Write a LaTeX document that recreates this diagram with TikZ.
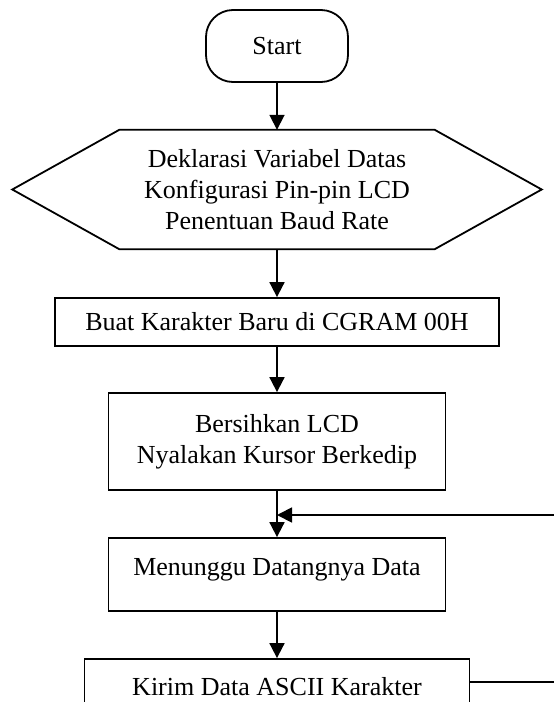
\documentclass[tikz,border=0pt]{standalone}
\usepackage{fontspec}
\setmainfont{Liberation Serif}
\usetikzlibrary{arrows.meta}
\begin{document}
\begin{tikzpicture}[x=1pt,y=-1pt,
  every node/.style={font=\fontsize{26}{31}\selectfont},
  box/.style={draw,line width=1.8pt,inner sep=0pt,align=center},
  arr/.style={line width=1.8pt,-{Triangle[length=15pt,width=15pt]}},
  ln/.style={line width=1.8pt,line join=miter}]
\useasboundingbox (0,0) rectangle (554,702);
\clip (0,0) rectangle (554,702);
\node[box,rounded corners=27pt,minimum width=142,minimum height=72] (start) at (277,46) {Start};
\node[inner sep=0pt,minimum width=315,minimum height=119,align=center] (hex) at (277,189.5) {Deklarasi Variabel Datas\\Konfigurasi Pin-pin LCD\\Penentuan Baud Rate};
\draw[ln] (hex.north west) -- (hex.north east) -- ([xshift=107pt]hex.east) -- (hex.south east) -- (hex.south west) -- ([xshift=-107pt]hex.west) -- cycle;
\node[box,minimum width=444,minimum height=48] (buat) at (277,322) {Buat Karakter Baru di CGRAM 00H};
\node[box,minimum width=337,minimum height=97] (bersih) at (277,441.5) {Bersihkan LCD\\Nyalakan Kursor Berkedip};
\node[box,minimum width=337,minimum height=73,text height=17pt,text depth=15pt] (tunggu) at (277,574.5) {Menunggu Datangnya Data};
\node[box,minimum width=385,minimum height=46,text height=28pt,text depth=1pt] (kirim) at (277,682) {Kirim Data ASCII Karakter};
\coordinate (join) at (277,515);
\coordinate (back) at (575,682);
\draw[arr] (start) -- (hex);
\draw[arr] (hex) -- (buat);
\draw[arr] (buat) -- (bersih);
\draw[arr] (bersih) -- (tunggu);
\draw[arr] (tunggu) -- (kirim);
\draw[arr] (kirim.east) -- (back) |- (join);
\end{tikzpicture}
\end{document}
